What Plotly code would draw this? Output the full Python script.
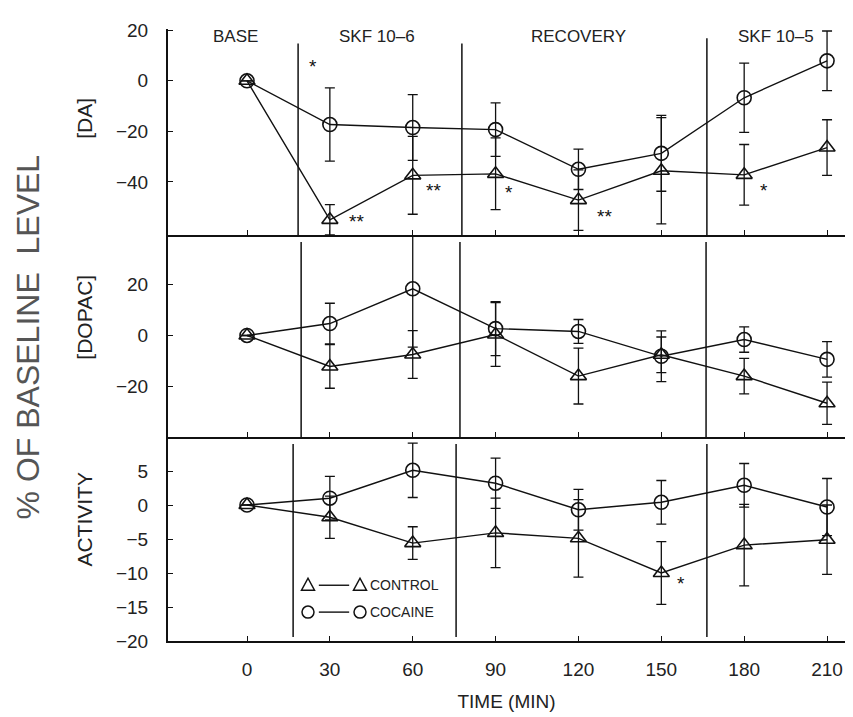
import plotly.graph_objects as go
from plotly.subplots import make_subplots

time = [0, 30, 60, 90, 120, 150, 180, 210]

# [DA]
da_cocaine = [0, -17.3, -18.5, -19.3, -35, -28.7, -6.7, 7.9]
da_cocaine_err = [0, 14.5, 13, 10.6, 8, 15, 13.7, 11.8]
da_control = [0, -55, -37.4, -36.8, -47.2, -35.6, -37.2, -26.4]
da_control_err = [0, 6, 15.4, 14.2, 12, 21, 12, 11]

# [DOPAC]
dopac_cocaine = [0, 4.7, 18.4, 2.7, 1.6, -8.2, -1.6, -9.4]
dopac_cocaine_err = [0, 8, 23, 10.6, 4.7, 10, 5, 7]
dopac_control = [0, -12.2, -7.5, 0.4, -16, -7.6, -16, -26.7]
dopac_control_err = [0, 8.6, 9.4, 12.6, 11, 7, 7, 8.3]

# ACTIVITY
act_cocaine = [0, 1.0, 5.1, 3.2, -0.7, 0.4, 2.9, -0.3]
act_cocaine_err = [0, 3.2, 4, 3.7, 3, 3.2, 3.2, 4.2]
act_control = [0, -1.8, -5.6, -4.1, -4.9, -10, -5.9, -5.1]
act_control_err = [0, 3.1, 2.4, 5.1, 5.7, 4.6, 6, 5.1]

phase_labels = ["BASE", "SKF 10\u20136", "RECOVERY", "SKF 10\u20135"]
phase_label_x = [-4, 47, 120, 191.5]

sep_da = [18.5, 77.8, 166.5]
sep_dopac = [19.6, 77.1, 166.2]
sep_act = [16.7, 75.7, 166.5]

# significance marks: (x, y, text)
sig_da = [(24, 5.5, "*"), (39.5, -55.5, "**"), (67.5, -43.5, "**"), (95, -44, "*"),
          (129.5, -53.5, "**"), (187, -43.5, "*")]
sig_dopac = [(218.5, -10.5, "*")]
sig_act = [(157, -11.5, "*")]

legend_names = ["CONTROL", "COCAINE"]

INK = "#111111"
TXT = "#222222"
FONT = "Liberation Sans"

fig = make_subplots(rows=3, cols=1, shared_xaxes=True, vertical_spacing=0,
                    row_heights=[207, 203, 205])

panels = [
    (1, da_control, da_control_err, da_cocaine, da_cocaine_err),
    (2, dopac_control, dopac_control_err, dopac_cocaine, dopac_cocaine_err),
    (3, act_control, act_control_err, act_cocaine, act_cocaine_err),
]

for row, ctl, ctl_e, coc, coc_e in panels:
    fig.add_trace(go.Scatter(
        x=time, y=ctl, mode="lines+markers", name=legend_names[0], showlegend=False,
        line=dict(color=INK, width=1.4),
        marker=dict(symbol="triangle-up-open", size=14, color=INK, line=dict(width=1.6, color=INK)),
        error_y=dict(type="data", array=ctl_e, color=INK, thickness=1.3, width=5)),
        row=row, col=1)
    fig.add_trace(go.Scatter(
        x=time, y=coc, mode="lines+markers", name=legend_names[1], showlegend=False,
        line=dict(color=INK, width=1.4),
        marker=dict(symbol="circle-open", size=14, color=INK, line=dict(width=1.6, color=INK)),
        error_y=dict(type="data", array=coc_e, color=INK, thickness=1.3, width=5)),
        row=row, col=1)

# separators
for row, seps, top in [(1, sep_da, [0.93, 0.93, 0.955]), (2, sep_dopac, [0.965] * 3),
                       (3, sep_act, [0.966] * 3)]:
    yref = "y domain" if row == 1 else f"y{row} domain"
    xref = "x" if row == 1 else f"x{row}"
    bottom = 0.02 if row == 3 else 0
    for sx, tp in zip(seps, top):
        fig.add_shape(type="line", xref=xref, yref=yref, x0=sx, x1=sx, y0=bottom, y1=tp,
                      line=dict(color=INK, width=1.5))

# phase labels
for lbl, lx in zip(phase_labels, phase_label_x):
    fig.add_annotation(text=lbl, x=lx, y=0.966, xref="x", yref="y domain", showarrow=False,
                       xanchor="center", yanchor="middle",
                       font=dict(family=FONT, size=17, color=TXT))

for row, marks in [(1, sig_da), (2, sig_dopac), (3, sig_act)]:
    xref = "x" if row == 1 else f"x{row}"
    yref = "y" if row == 1 else f"y{row}"
    for sx, sy, st in marks:
        fig.add_annotation(text=st, x=sx, y=sy, xref=xref, yref=yref, showarrow=False,
                           xanchor="center", yanchor="middle",
                           font=dict(family=FONT, size=19, color=INK))

# panel y labels
for txt, yy in [("[DA]", 0.855), ("[DOPAC]", 0.53), ("ACTIVITY", 0.2)]:
    fig.add_annotation(text=txt, x=-0.1226, y=yy, xref="paper", yref="paper", showarrow=False,
                       xanchor="center", yanchor="middle", textangle=-90,
                       font=dict(family=FONT, size=21, color=TXT))

fig.add_annotation(text="% OF BASELINE  LEVEL", x=-0.2068, y=0.4976, xref="paper", yref="paper",
                   showarrow=False, textangle=-90, xanchor="center", yanchor="middle",
                   font=dict(family=FONT, size=32, color="#555555"))

# hand-drawn key (symbol — symbol NAME), in paper coordinates
key_rows = [(0.0911, "triangle"), (0.0472, "circle")]
key_x1, key_x2, key_text_x = 0.2068, 0.2836, 0.2954
tri_path = "M -6.5 -5 L 6.5 -5 L 0 7 Z"
for (ky, kind), name in zip(key_rows, legend_names):
    fig.add_shape(type="line", xref="paper", yref="paper", x0=key_x1 + 0.016, x1=key_x2 - 0.016,
                  y0=ky, y1=ky, line=dict(color=INK, width=1.4))
    for kx in (key_x1, key_x2):
        if kind == "triangle":
            fig.add_shape(type="path", xref="paper", yref="paper", xsizemode="pixel",
                          ysizemode="pixel", xanchor=kx, yanchor=ky, path=tri_path,
                          line=dict(color=INK, width=1.5))
        else:
            fig.add_shape(type="circle", xref="paper", yref="paper", xsizemode="pixel",
                          ysizemode="pixel", xanchor=kx, yanchor=ky, x0=-6, x1=6, y0=-6, y1=6,
                          line=dict(color=INK, width=1.5))
    fig.add_annotation(text=name, x=key_text_x, y=ky, xref="paper", yref="paper",
                       showarrow=False, xanchor="left", yanchor="middle",
                       font=dict(family=FONT, size=14, color=TXT))

xcommon = dict(range=[-28.6, 216.5], tickvals=time, ticks="inside", ticklen=5,
               tickcolor=INK, showline=True, linecolor=INK, linewidth=2,
               showgrid=False, zeroline=False, mirror=False)
fig.update_xaxes(**xcommon)
fig.update_xaxes(row=3, col=1, ticktext=[str(t) for t in time], ticklabelstandoff=10,
                 tickfont=dict(family=FONT, size=19, color=TXT),
                 title=dict(text="TIME (MIN)", font=dict(family=FONT, size=19, color=TXT),
                            standoff=16))

ycommon = dict(ticks="inside", ticklen=5, tickcolor=INK, showline=True, linecolor=INK,
               linewidth=2, showgrid=False, zeroline=False, ticklabelstandoff=14,
               tickfont=dict(family=FONT, size=19, color=TXT))
fig.update_yaxes(**ycommon)
fig.update_yaxes(row=1, col=1, range=[-61, 20.5], tickvals=[20, 0, -20, -40])
fig.update_yaxes(row=2, col=1, range=[-40, 39.6], tickvals=[20, 0, -20])
fig.update_yaxes(row=3, col=1, range=[-20, 10], tickvals=[5, 0, -5, -10, -15, -20])

fig.update_layout(
    width=853, height=717,
    margin=dict(l=160, r=16, t=18, b=84),
    paper_bgcolor="white", plot_bgcolor="white",
    font=dict(family=FONT, color=TXT),
    showlegend=False,
)

fig.write_html("out.html")
